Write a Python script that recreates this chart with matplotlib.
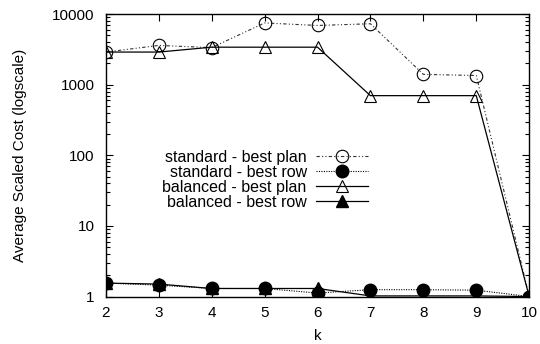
import matplotlib
matplotlib.use("Agg")
import matplotlib.pyplot as plt
from matplotlib.ticker import LogLocator, NullFormatter, FixedLocator

plt.rcParams['font.family'] = ['Liberation Sans', 'DejaVu Sans']
plt.rcParams['font.size'] = 11

# valores por k
k = [2, 3, 4, 5, 6, 7, 8, 9, 10]
std_plan = [2900, 3600, 3350, 7500, 6900, 7300, 1400, 1350, 1]
std_row = [1.55, 1.45, 1.3, 1.3, 1.12, 1.25, 1.25, 1.23, 1]
bal_plan = [2900, 2900, 3400, 3400, 3400, 700, 700, 700, 1]
bal_row = [1.55, 1.5, 1.3, 1.3, 1.3, 1.02, 1.02, 1.02, 1]

fig = plt.figure(figsize=(5.4, 3.44), dpi=100)
ax = fig.add_axes([0.196, 0.138, 0.784, 0.821])

ax.plot(k, std_plan, color="#333333", lw=0.8, dashes=(3, 2, 1, 2, 1, 2),
        marker="o", ms=9, mfc="none", mec="black", mew=0.8,
        label="standard - best plan")
ax.plot(k, std_row, color="black", lw=0.8, dashes=(1, 1.2),
        marker="o", ms=9, mfc="black", mec="black",
        label="standard - best row")
ax.plot(k, bal_plan, color="black", lw=0.9, ls="-",
        marker="^", ms=9, mfc="none", mec="black", mew=0.8,
        label="balanced - best plan")
ax.plot(k, bal_row, color="black", lw=0.9, ls="-",
        marker="^", ms=9, mfc="black", mec="black",
        label="balanced - best row")

ax.set_yscale("log")
ax.set_xlim(2, 10)
ax.set_ylim(1, 10000)
ax.xaxis.set_major_locator(FixedLocator(k))
ax.yaxis.set_major_locator(FixedLocator([1, 10, 100, 1000, 10000]))
ax.set_yticklabels(["1", "10", "100", "1000", "10000"])
ax.yaxis.set_minor_locator(LogLocator(base=10, subs=range(2, 10)))
ax.yaxis.set_minor_formatter(NullFormatter())

ax.tick_params(which="both", direction="in", top=True, right=True,
               width=0.8, labelsize=11)
ax.tick_params(axis="x", pad=7)
ax.tick_params(axis="y", pad=8)
ax.tick_params(which="major", length=5)
ax.tick_params(which="minor", length=3)
for s in ax.spines.values():
    s.set_linewidth(1.0)

ax.set_xlabel("k", fontsize=11, labelpad=6)
ax.set_ylabel("Average Scaled Cost (logscale)", fontsize=11, labelpad=18)

ax.legend(loc="upper right", bbox_to_anchor=(0.62, 0.52), frameon=False,
          markerfirst=False, handlelength=3.3, handletextpad=0.56,
          labelspacing=0.0, borderpad=0, borderaxespad=0, fontsize=11.5)

fig.savefig("out.png", dpi=100)
